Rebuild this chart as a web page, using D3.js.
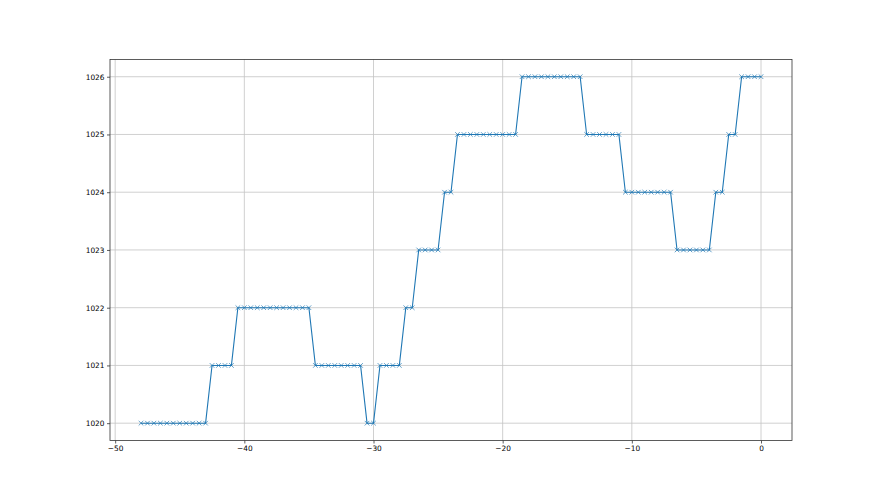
<!DOCTYPE html>
<html>
<head>
<meta charset="utf-8">
<script src="https://cdn.jsdelivr.net/npm/d3@7"></script>
<style>
  body { margin: 0; background: #fff; }
  .axis text { font-family: "DejaVu Sans", sans-serif; font-size: 7.4px; fill: #000; }
  .axis path, .axis line { stroke: #333; stroke-width: 0.8; }
</style>
</head>
<body>
<div id="painting"></div>
<script>
// hours back from now, pressure readings (every half step)
var steps = [
  -48, -47.5, -47, -46.5, -46, -45.5, -45, -44.5, -44, -43.5, -43,
  -42.5, -42, -41.5, -41,
  -40.5, -40, -39.5, -39, -38.5, -38, -37.5, -37, -36.5, -36, -35.5, -35,
  -34.5, -34, -33.5, -33, -32.5, -32, -31.5, -31,
  -30.5, -30,
  -29.5, -29, -28.5, -28,
  -27.5, -27,
  -26.5, -26, -25.5, -25,
  -24.5, -24,
  -23.5, -23, -22.5, -22, -21.5, -21, -20.5, -20, -19.5, -19,
  -18.5, -18, -17.5, -17, -16.5, -16, -15.5, -15, -14.5, -14,
  -13.5, -13, -12.5, -12, -11.5, -11,
  -10.5, -10, -9.5, -9, -8.5, -8, -7.5, -7,
  -6.5, -6, -5.5, -5, -4.5, -4,
  -3.5, -3,
  -2.5, -2,
  -1.5, -1, -0.5, 0
];
var pressure = [
  1020, 1020, 1020, 1020, 1020, 1020, 1020, 1020, 1020, 1020, 1020,
  1021, 1021, 1021, 1021,
  1022, 1022, 1022, 1022, 1022, 1022, 1022, 1022, 1022, 1022, 1022, 1022,
  1021, 1021, 1021, 1021, 1021, 1021, 1021, 1021,
  1020, 1020,
  1021, 1021, 1021, 1021,
  1022, 1022,
  1023, 1023, 1023, 1023,
  1024, 1024,
  1025, 1025, 1025, 1025, 1025, 1025, 1025, 1025, 1025, 1025,
  1026, 1026, 1026, 1026, 1026, 1026, 1026, 1026, 1026, 1026,
  1025, 1025, 1025, 1025, 1025, 1025,
  1024, 1024, 1024, 1024, 1024, 1024, 1024, 1024,
  1023, 1023, 1023, 1023, 1023, 1023,
  1024, 1024,
  1025, 1025,
  1026, 1026, 1026, 1026
];
var x_ticks = [-50, -40, -30, -20, -10, 0];
var y_ticks = [1020, 1021, 1022, 1023, 1024, 1025, 1026];

var dataset = steps.map(function(s, i) { return {x: s, y: pressure[i]}; });

var W = 880, H = 495;
var margin = {top: 59.4, right: 88, bottom: 54.5, left: 110};
var w = W - margin.left - margin.right;
var h = H - margin.top - margin.bottom;

var xScale = d3.scaleLinear().domain([-50.4, 2.4]).range([0, w]);
var yScale = d3.scaleLinear().domain([1019.7, 1026.3]).range([h, 0]);

var svg = d3.select("#painting")
  .append("svg")
  .attr("width", W)
  .attr("height", H)
  .append("g")
  .attr("transform", "translate(" + margin.left + "," + margin.top + ")");

// grid
svg.append("g").selectAll("line")
  .data(x_ticks)
  .enter()
  .append("line")
  .attr("x1", function(d) { return xScale(d); })
  .attr("x2", function(d) { return xScale(d); })
  .attr("y1", 0)
  .attr("y2", h)
  .attr("stroke", "#c4c4c4")
  .attr("stroke-width", 0.8);
svg.append("g").selectAll("line")
  .data(y_ticks)
  .enter()
  .append("line")
  .attr("y1", function(d) { return yScale(d); })
  .attr("y2", function(d) { return yScale(d); })
  .attr("x1", 0)
  .attr("x2", w)
  .attr("stroke", "#c4c4c4")
  .attr("stroke-width", 0.8);

var fmt = function(d) { return String(d).replace("-", "\u2212"); };

var xAxis = d3.axisBottom(xScale).tickValues(x_ticks).tickSize(3).tickPadding(2.5).tickFormat(fmt);
var yAxis = d3.axisLeft(yScale).tickValues(y_ticks).tickSize(3).tickPadding(2.5).tickFormat(d3.format("d"));

svg.append("g")
  .attr("class", "axis")
  .attr("transform", "translate(0," + h + ")")
  .call(xAxis)
  .call(function(g) { g.select(".domain").remove(); });
svg.append("g")
  .attr("class", "axis")
  .call(yAxis)
  .call(function(g) { g.select(".domain").remove(); });

// line
var line = d3.line()
  .x(function(d) { return xScale(d.x); })
  .y(function(d) { return yScale(d.y); });

svg.append("path")
  .datum(dataset)
  .attr("fill", "none")
  .attr("stroke", "#1f77b4")
  .attr("stroke-width", 1.1)
  .attr("d", line);

// x markers
var ms = 2.3;
var markers = svg.append("g")
  .selectAll("path")
  .data(dataset)
  .enter()
  .append("path")
  .attr("d", function(d) {
    var cx = xScale(d.x), cy = yScale(d.y);
    return "M" + (cx - ms) + "," + (cy - ms) + "L" + (cx + ms) + "," + (cy + ms) +
           "M" + (cx - ms) + "," + (cy + ms) + "L" + (cx + ms) + "," + (cy - ms);
  })
  .attr("stroke", "#1f77b4")
  .attr("stroke-opacity", 0.7)
  .attr("stroke-width", 1);

// frame
svg.append("rect")
  .attr("x", 0)
  .attr("y", 0)
  .attr("width", w)
  .attr("height", h)
  .attr("fill", "none")
  .attr("stroke", "#333")
  .attr("stroke-width", 0.8);
</script>
</body>
</html>
